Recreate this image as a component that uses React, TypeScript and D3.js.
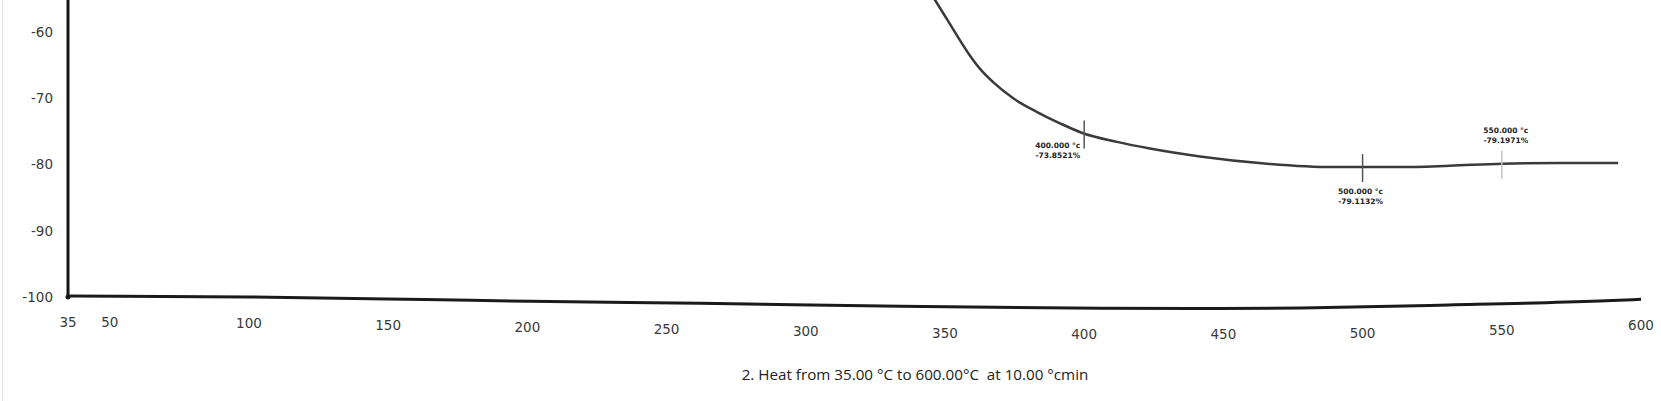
import * as d3 from 'd3'

// TGA curve: temperature (°C) vs weight change (%)
const curveTemps = [344.5, 346.4, 350.7, 355.4, 359, 362.6, 367.3, 374.4, 383.1, 391.3, 399.6, 411.8, 423.6, 441.6, 465.7, 489.4, 500.2, 513.4, 531.4, 550.1, 570.9, 591.8]
const curveWeights = [-54.0, -55.2, -58.1, -61.3, -63.6, -65.6, -67.6, -70.0, -72.1, -73.8, -75.3, -76.6, -77.6, -78.8, -79.9, -80.4, -80.4, -80.4, -80.2, -79.9, -79.8, -79.8]

// lower trace running along the bottom of the frame
const baseTemps = [35, 100, 163, 201, 262, 334, 406, 440, 478, 531, 585, 600]
const baseWeights = [-99.85, -100, -100.38, -100.65, -100.95, -101.4, -101.7, -101.75, -101.65, -101.2, -100.6, -100.35]

const xTicks = [35, 50, 100, 150, 200, 250, 300, 350, 400, 450, 500, 550, 600]
const yTicks = [-60, -70, -80, -90, -100]

const markerTemps = [400, 500, 550]
const markerTempLabels = ['400.000 °c', '500.000 °c', '550.000 °c']
const markerWeightLabels = ['-73.8521%', '-79.1132%', '-79.1971%']

const title = '2. Heat from 35.00 °C to 600.00°C  at 10.00 °cmin'

const W = 1661
const H = 401

// where each marker's text sits relative to its tick
const markerLayout = [
  { anchor: 'end', dx: -4, dy: 14, color: '#555' },
  { anchor: 'middle', dx: -2, dy: 27, color: '#555' },
  { anchor: 'middle', dx: 4, dy: -31, color: '#c4c4c4' }
]

export default function App() {
  const x = d3.scaleLinear().domain([35, 600]).range([68, 1641])
  const y = d3.scaleLinear().domain([-100, -60]).range([297, 31.8])

  const curveAt = d3.scaleLinear().domain(curveTemps).range(curveWeights)
  const baseAt = d3.scaleLinear().domain(baseTemps).range(baseWeights)

  const curvePath = d3.line<number>()
    .curve(d3.curveMonotoneX)
    .x((_, i) => x(curveTemps[i]))
    .y((_, i) => y(curveWeights[i]))(curveTemps)

  const basePath = d3.line<number>()
    .curve(d3.curveMonotoneX)
    .x((_, i) => x(baseTemps[i]))
    .y((_, i) => y(baseWeights[i]))(baseTemps)

  const tickFont = '"DejaVu Sans", sans-serif'

  return (
    <div style={{ position: 'absolute', left: 0, top: 0 }}>
      <svg width={W} height={H} style={{ display: 'block', background: '#fff' }}>
        {/* faint scan edge */}
        <line x1={2.5} x2={2.5} y1={0} y2={H} stroke="#e2e2e2" strokeWidth={1} />

        {/* y axis */}
        <line x1={x(35)} x2={x(35)} y1={0} y2={y(-100)} stroke="#151515" strokeWidth={3} />
        <circle cx={x(35)} cy={y(-100)} r={2.5} fill="#151515" />
        {yTicks.map(t => (
          <text
            key={t}
            x={53}
            y={y(t)}
            textAnchor="end"
            dominantBaseline="central"
            fontFamily={tickFont}
            fontSize={13.5}
            fill="#3a3a3a"
          >
            {t}
          </text>
        ))}

        {/* bottom trace */}
        <path d={basePath ?? ''} fill="none" stroke="#1a1a1a" strokeWidth={3} />

        {xTicks.map(t => (
          <text
            key={t}
            x={x(t)}
            y={y(baseAt(t)) + 26}
            textAnchor="middle"
            dominantBaseline="central"
            fontFamily={tickFont}
            fontSize={13.5}
            fill="#3a3a3a"
          >
            {t}
          </text>
        ))}

        {/* weight-loss curve */}
        <path d={curvePath ?? ''} fill="none" stroke="#3a3a3a" strokeWidth={2.5} />

        {/* temperature markers */}
        {markerTemps.map((t, i) => {
          const mx = x(t)
          const my = y(curveAt(t))
          const lay = markerLayout[i]
          return (
            <g key={t}>
              <line x1={mx} x2={mx} y1={my - 13} y2={my + 15} stroke={lay.color} strokeWidth={1.5} />
              <text
                x={mx + lay.dx}
                y={my + lay.dy}
                textAnchor={lay.anchor}
                fontFamily={tickFont}
                fontWeight="bold"
                fontSize={7.5}
                fill="#222"
              >
                <tspan x={mx + lay.dx} dy={0}>{markerTempLabels[i]}</tspan>
                <tspan x={mx + lay.dx} dy={10}>{markerWeightLabels[i]}</tspan>
              </text>
            </g>
          )
        })}

        <text
          x={915}
          y={374}
          textAnchor="middle"
          dominantBaseline="central"
          fontFamily='"Open Sans", sans-serif'
          fontSize={15.2}
          fill="#222"
          style={{ whiteSpace: 'pre' }}
        >
          {title}
        </text>
      </svg>
    </div>
  )
}
